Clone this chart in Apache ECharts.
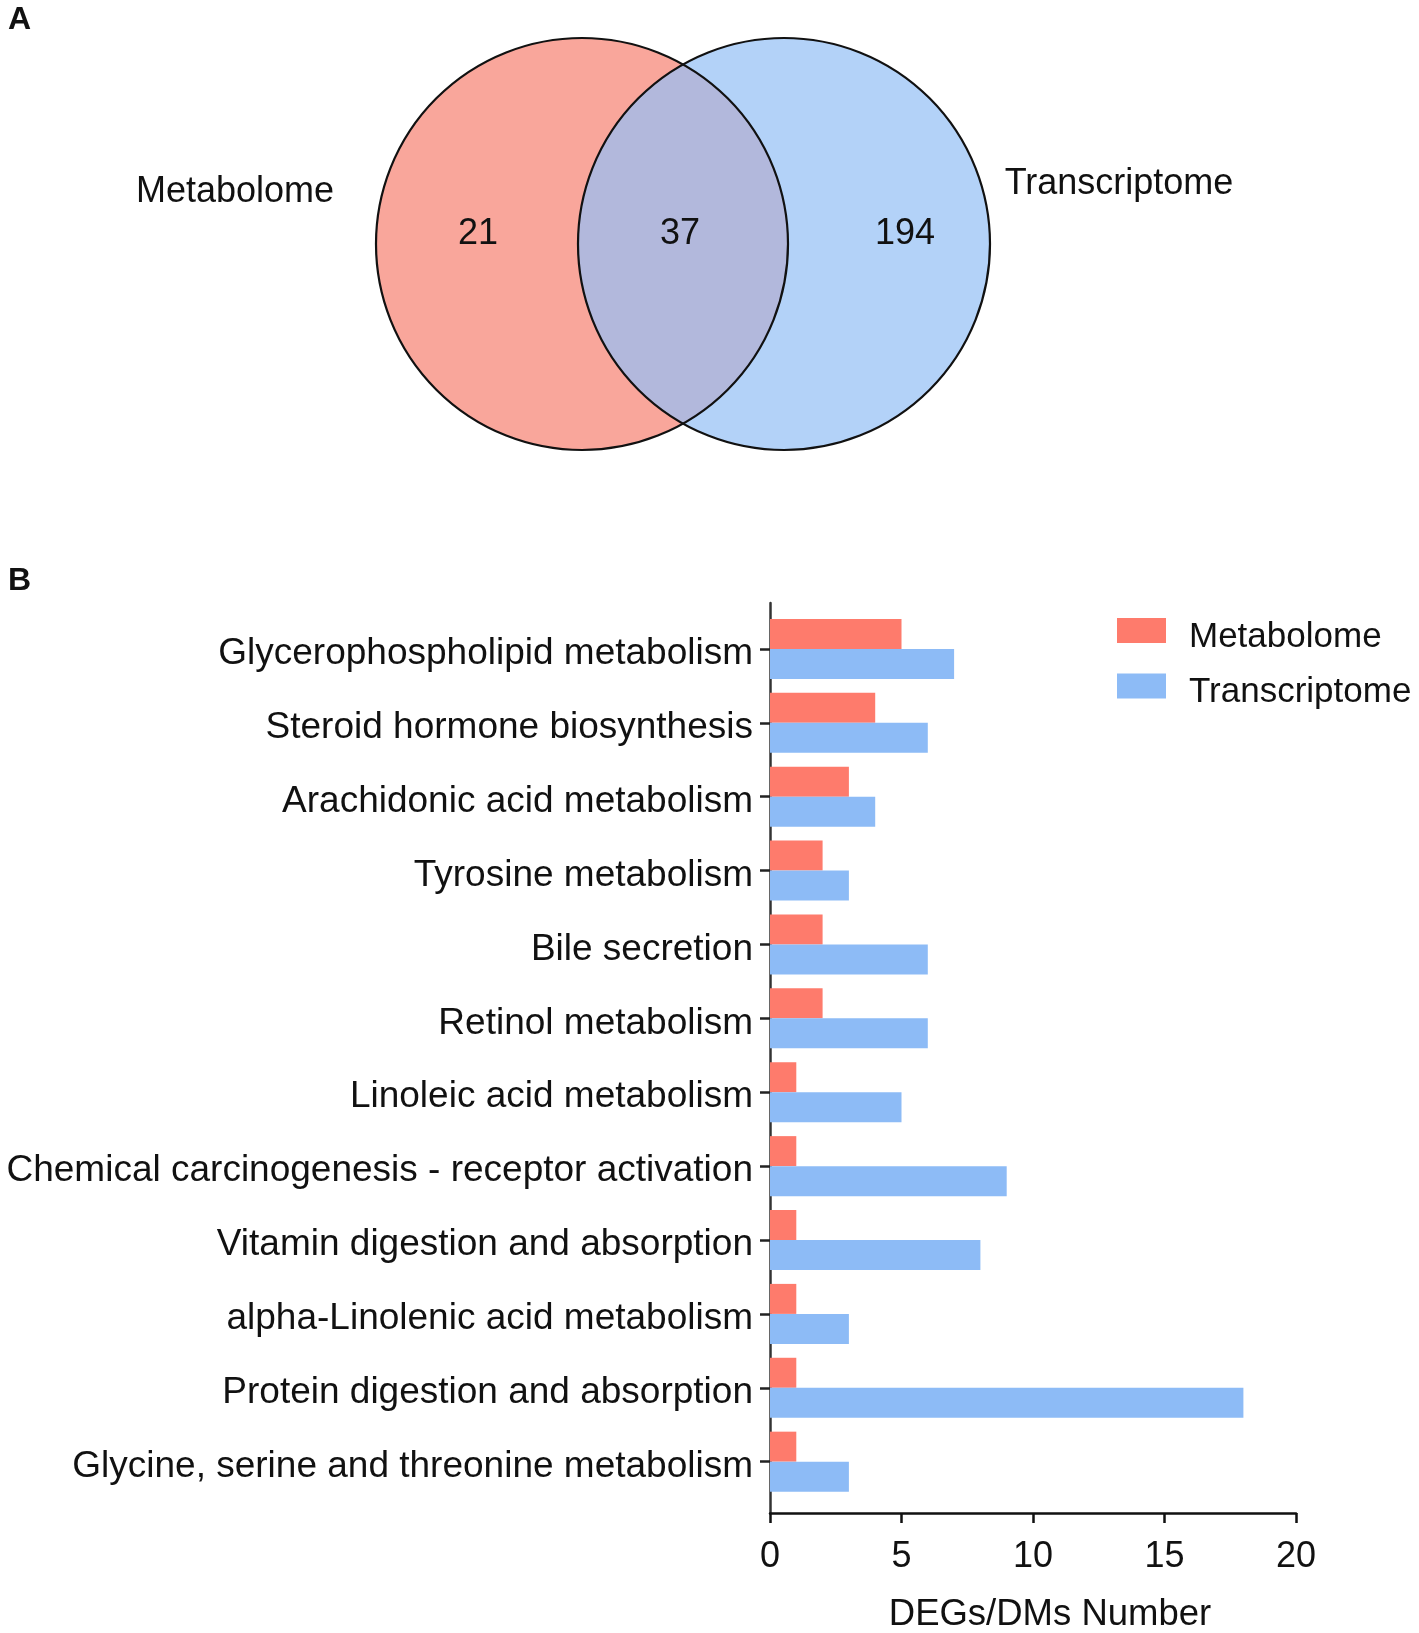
<!DOCTYPE html>
<html>
<head>
<meta charset="utf-8">
<script src="https://cdn.jsdelivr.net/npm/echarts@6/dist/echarts.min.js"></script>
<style>
html,body{margin:0;padding:0;background:#fff;}
#chart{width:1419px;height:1633px;}
</style>
</head>
<body>
<div id="chart"></div>
<script>
const categories = [
  'Glycerophospholipid metabolism',
  'Steroid hormone biosynthesis',
  'Arachidonic acid metabolism',
  'Tyrosine metabolism',
  'Bile secretion',
  'Retinol metabolism',
  'Linoleic acid metabolism',
  'Chemical carcinogenesis - receptor activation',
  'Vitamin digestion and absorption',
  'alpha-Linolenic acid metabolism',
  'Protein digestion and absorption',
  'Glycine, serine and threonine metabolism'
];
const metabolome = [5, 4, 3, 2, 2, 2, 1, 1, 1, 1, 1, 1];
const transcriptome = [7, 6, 4, 3, 6, 6, 5, 9, 8, 3, 18, 3];
const seriesNames = ['Metabolome', 'Transcriptome'];
const vennCounts = [21, 37, 194]; // only Metabolome, shared, only Transcriptome
const xAxisTitle = 'DEGs/DMs Number';
const panelLabels = ['A', 'B'];

const FONT = '"Liberation Sans", Arial, sans-serif';
const RED_BAR = '#FE7B6C';
const BLUE_BAR = '#8DBBF6';
const VENN_RED = '#F9A69B';
const VENN_BLUE = '#B3D2F8';
const VENN_MID = '#B2B8DC';

// Venn layout (geometry only)
const cy = 244, r = 206, c1 = 582, c2 = 784;
const halfD = (c2 - c1) / 2;
const ang = Math.acos(halfD / r);
const lensPts = [];
const N = 120;
for (let i = 0; i <= N; i++) {
  const t = -ang + (2 * ang) * i / N;
  lensPts.push([c1 + r * Math.cos(t), cy + r * Math.sin(t)]);
}
for (let i = 0; i <= N; i++) {
  const t = Math.PI - ang + (2 * ang) * i / N;
  lensPts.push([c2 + r * Math.cos(t), cy + r * Math.sin(t)]);
}

const txt = (x, y, text, size, align, weight) => ({
  type: 'text', x: x, y: y,
  style: { text: String(text), fontSize: size, fontFamily: FONT, fill: '#111',
           align: align || 'center', verticalAlign: 'middle', fontWeight: weight || 'normal' }
});

const chart = echarts.init(document.getElementById('chart'));
chart.setOption({
  backgroundColor: '#fff',
  animation: false,
  textStyle: { fontFamily: FONT },
  graphic: [
    { type: 'circle', shape: { cx: c1, cy: cy, r: r }, style: { fill: VENN_RED } },
    { type: 'circle', shape: { cx: c2, cy: cy, r: r }, style: { fill: VENN_BLUE } },
    { type: 'polygon', shape: { points: lensPts }, style: { fill: VENN_MID } },
    { type: 'circle', shape: { cx: c1, cy: cy, r: r }, style: { fill: 'none', stroke: '#111', lineWidth: 2.2 } },
    { type: 'circle', shape: { cx: c2, cy: cy, r: r }, style: { fill: 'none', stroke: '#111', lineWidth: 2.2 } },
    txt(478, 234, vennCounts[0], 36),
    txt(680, 234, vennCounts[1], 36),
    txt(905, 234, vennCounts[2], 36),
    txt(235, 192, seriesNames[0], 36),
    txt(1119, 184, seriesNames[1], 36),
    txt(8, 20, panelLabels[0], 32, 'left', 'bold'),
    txt(8, 581, panelLabels[1], 32, 'left', 'bold')
  ],
  legend: {
    orient: 'vertical',
    left: 1112,
    top: 608,
    itemWidth: 49,
    itemHeight: 25,
    itemGap: 14,
    icon: 'rect',
    data: seriesNames,
    formatter: name => '{s| }{t|' + name + '}',
    textStyle: {
      fontSize: 35, fontFamily: FONT, color: '#111', padding: [0, 0, 0, 18],
      rich: {
        s: { height: 48, width: 0, fontSize: 35 },
        t: { fontSize: 35, fontFamily: FONT, color: '#111', lineHeight: 36, verticalAlign: 'bottom' }
      }
    }
  },
  grid: [
    { left: 770, right: 123, top: 612, bottom: 134.4, outerBoundsMode: 'none', containLabel: false },
    { left: 770, right: 123, top: 603, bottom: 120, outerBoundsMode: 'none', containLabel: false }
  ],
  xAxis: [
    { gridIndex: 0, type: 'value', min: 0, max: 20, interval: 5, show: false },
    {
      gridIndex: 1, type: 'value', min: 0, max: 20, interval: 5,
      axisLine: { show: true, lineStyle: { color: '#111', width: 2.5 } },
      axisTick: { show: true, length: 10, lineStyle: { color: '#111', width: 2.5 } },
      axisLabel: { fontSize: 36, color: '#111', margin: 26, fontFamily: FONT },
      splitLine: { show: false },
      name: xAxisTitle,
      nameLocation: 'middle',
      nameGap: 83,
      nameTextStyle: { fontSize: 36.5, color: '#111', fontFamily: FONT, padding: [0, 0, 0, 34] }
    }
  ],
  yAxis: [
    {
      gridIndex: 0, type: 'category', data: categories, inverse: true,
      axisLine: { show: false },
      axisTick: { show: true, alignWithLabel: true, length: 10, lineStyle: { color: '#222', width: 2.5 } },
      axisLabel: {
        fontSize: 37, color: '#111', margin: 17, fontFamily: FONT,
        formatter: v => '{c|' + v + '}',
        rich: { c: { fontSize: 37, color: '#111', fontFamily: FONT, padding: [10, 0, 0, 0] } }
      },
      splitLine: { show: false }
    },
    {
      gridIndex: 1, type: 'value', min: 0, max: 1,
      axisLine: { show: true, lineStyle: { color: '#333', width: 2.5 } },
      axisTick: { show: false }, axisLabel: { show: false }, splitLine: { show: false }
    }
  ],
  series: [
    { name: seriesNames[0], type: 'bar', xAxisIndex: 0, yAxisIndex: 0, data: metabolome,
      barWidth: 30, barGap: '0%', itemStyle: { color: RED_BAR } },
    { name: seriesNames[1], type: 'bar', xAxisIndex: 0, yAxisIndex: 0, data: transcriptome,
      barWidth: 30, barGap: '0%', itemStyle: { color: BLUE_BAR } }
  ]
});
</script>
</body>
</html>
